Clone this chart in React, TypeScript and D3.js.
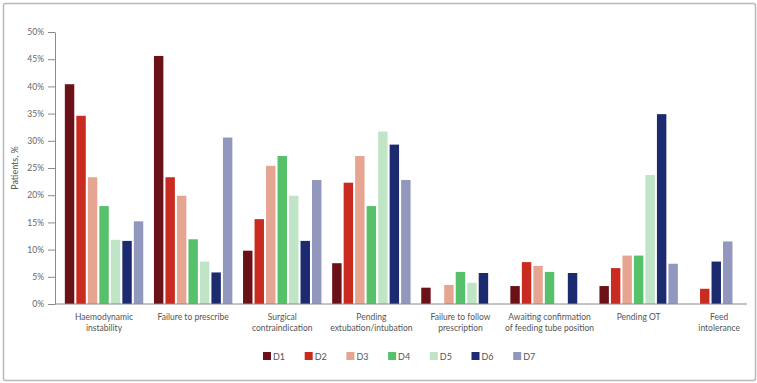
// Grouped bars: share of patients per reason, days D1-D7.
import { useEffect, useRef } from "react";
import * as d3 from "d3";

const categories = [
  "Haemodynamic\ninstability",
  "Failure to prescribe",
  "Surgical\ncontraindication",
  "Pending\nextubation/intubation",
  "Failure to follow\nprescription",
  "Awaiting confirmation\nof feeding tube position",
  "Pending OT",
  "Feed\nintolerance",
];

const seriesNames = ["D1", "D2", "D3", "D4", "D5", "D6", "D7"];

// one array per day, in category order; null = no slot for that day
const D1 = [40.4, 45.6, 9.8, 7.5, 3.0, 3.3, 3.3, 0];
const D2 = [34.6, 23.3, 15.6, 22.3, 0, 7.7, 6.6, 2.8];
const D3 = [23.3, 19.9, 25.4, 27.2, 3.5, 7.0, 8.9, null];
const D4 = [18.0, 11.9, 27.2, 18.0, 5.9, 5.9, 8.9, null];
const D5 = [11.8, 7.8, 19.9, 31.7, 3.9, 0, 23.7, null];
const D6 = [11.6, 5.8, 11.6, 29.3, 5.7, 5.7, 34.9, 7.8];
const D7 = [15.2, 30.6, 22.8, 22.8, 0, 0, 7.4, 11.5];

const yTicks = [0, 5, 10, 15, 20, 25, 30, 35, 40, 45, 50];

const colors = ["#6b1219", "#c92b20", "#e6a591", "#57c06a", "#bfe5c6", "#1c2b6f", "#9197bd"];

const W = 757;
const H = 383;
const FONT = "Lato, 'Open Sans', sans-serif";

export default function App() {
  const svgRef = useRef<SVGSVGElement>(null);

  useEffect(() => {
    const svg = d3.select(svgRef.current);
    svg.selectAll("*").remove();

    const series = [D1, D2, D3, D4, D5, D6, D7];

    // outer frame
    svg.append("rect")
      .attr("x", 3.5).attr("y", 3.5)
      .attr("width", 752).attr("height", 377)
      .attr("rx", 2)
      .attr("fill", "#fff")
      .attr("stroke", "#b8b8b8")
      .attr("stroke-width", 1.5);

    const left = 55, right = 747, top = 32, bottom = 304;

    const y = d3.scaleLinear().domain([0, 50]).range([bottom, top]);

    const x = d3.scaleBand()
      .domain(categories)
      .range([59.5, 59.5 + 8 * 89.1])
      .paddingInner(0.12)
      .paddingOuter(0.06);

    const slot = d3.scaleBand<number>()
      .domain(d3.range(seriesNames.length))
      .range([0, x.bandwidth()])
      .paddingInner(0.18);

    // y axis
    const yAxis = svg.append("g")
      .attr("transform", `translate(${left},0)`)
      .call(d3.axisLeft(y).tickValues(yTicks).tickFormat(d => `${d}%`).tickSize(7).tickSizeOuter(0));
    yAxis.select(".domain").attr("stroke", "#8a8a8a");
    yAxis.selectAll(".tick line").attr("stroke", "#8a8a8a");
    yAxis.selectAll("text")
      .attr("font-family", FONT)
      .attr("font-size", 8.5)
      .attr("fill", "#666")
      .attr("x", -11);

    svg.append("text")
      .attr("transform", `translate(18,${(top + bottom) / 2}) rotate(-90)`)
      .attr("text-anchor", "middle")
      .attr("font-family", FONT)
      .attr("font-size", 9)
      .attr("fill", "#555")
      .text("Patients, %");

    // bars
    categories.forEach((cat, ci) => {
      const x0 = x(cat) ?? 0;
      let k = 0;
      series.forEach((vals, si) => {
        const v = vals[ci];
        if (v === null) return;
        const bx = x0 + (slot(k) ?? 0);
        k++;
        if (v <= 0) return;
        svg.append("rect")
          .attr("x", bx)
          .attr("y", y(v))
          .attr("width", slot.bandwidth())
          .attr("height", y(0) - y(v))
          .attr("fill", colors[si]);
      });

      // label centred between the band and the used slots
      const used = k;
      const bandMid = x0 + x.bandwidth() / 2;
      const usedMid = x0 + (slot(used - 1) ?? 0) / 2 + slot.bandwidth() / 2;
      const lx = (bandMid + usedMid) / 2;
      const lines = cat.split("\n");
      const t = svg.append("text")
        .attr("text-anchor", "middle")
        .attr("font-family", FONT)
        .attr("font-size", 8.5)
        .attr("fill", "#555");
      lines.forEach((ln, li) => {
        t.append("tspan")
          .attr("x", lx)
          .attr("y", 320 + li * 11)
          .text(ln);
      });
    });

    // baseline
    svg.append("line")
      .attr("x1", left).attr("x2", right)
      .attr("y1", y(0)).attr("y2", y(0))
      .attr("stroke", "#8a8a8a");

    // legend
    const legend = svg.append("g").attr("transform", "translate(263,352)");
    seriesNames.forEach((name, i) => {
      const g = legend.append("g").attr("transform", `translate(${i * 41.7},0)`);
      g.append("rect").attr("width", 8).attr("height", 8).attr("fill", colors[i]);
      g.append("text")
        .attr("x", 10).attr("y", 7.5)
        .attr("font-family", FONT)
        .attr("font-size", 9)
        .attr("fill", "#555")
        .text(name);
    });
  }, []);

  return (
    <svg
      ref={svgRef}
      width={W}
      height={H}
      style={{ position: "absolute", left: 0, top: 0, background: "#fff" }}
    />
  );
}
